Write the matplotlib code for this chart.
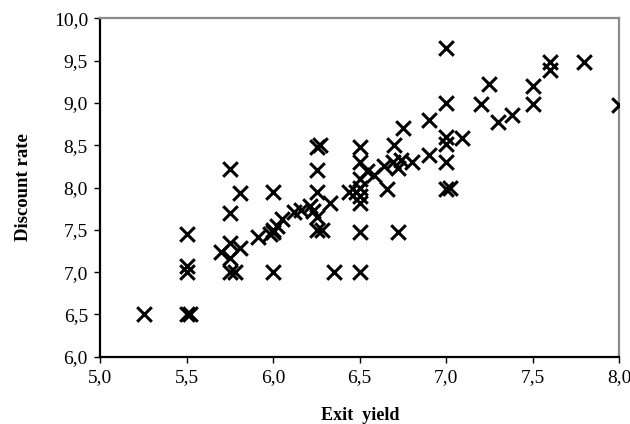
import matplotlib
matplotlib.use("Agg")
import matplotlib.pyplot as plt
from matplotlib.ticker import FuncFormatter

# Data
exit_yield = [
    5.25, 5.50, 5.52, 5.50, 5.50, 5.50, 5.75, 5.78, 5.75, 5.70,
    5.81, 5.75, 5.75, 5.75, 5.81, 5.91, 6.00, 6.00, 6.00, 5.98,
    6.02, 6.00, 6.05, 6.12, 6.16, 6.21, 6.25, 6.23, 6.25, 6.28,
    6.25, 6.25, 6.25, 6.27, 6.33, 6.35, 6.44, 6.50, 6.50, 6.50,
    6.50, 6.48, 6.50, 6.50, 6.54, 6.58, 6.50, 6.50, 6.64, 6.66,
    6.69, 6.72, 6.74, 6.70, 6.72, 6.75, 6.80, 6.90, 6.90, 7.00,
    7.02, 7.00, 7.00, 7.00, 7.00, 7.00, 7.09, 7.20, 7.25, 7.30,
    7.38, 7.50, 7.50, 7.60, 7.60, 7.80, 8.00,
]
discount_rate = [
    6.50, 6.50, 6.50, 7.00, 7.07, 7.45, 7.00, 7.00, 7.17, 7.24,
    7.28, 7.34, 7.70, 8.22, 7.94, 7.41, 7.00, 7.95, 7.50, 7.45,
    7.55, 7.47, 7.63, 7.71, 7.74, 7.78, 7.65, 7.72, 7.50, 7.50,
    7.95, 8.21, 8.48, 8.50, 7.82, 7.00, 7.95, 7.00, 7.48, 7.82,
    7.90, 7.95, 8.00, 8.10, 8.19, 8.15, 8.30, 8.48, 8.25, 7.98,
    8.30, 8.23, 8.33, 8.50, 7.48, 8.70, 8.30, 8.38, 8.80, 7.98,
    7.99, 8.30, 8.52, 8.60, 9.00, 9.65, 8.58, 8.99, 9.22, 8.78,
    8.86, 8.99, 9.20, 9.39, 9.48, 9.48, 8.98,
]

plt.rcParams['font.family'] = ['Liberation Serif', 'DejaVu Serif']

fig = plt.figure(figsize=(6.30, 4.24), dpi=100)
ax = fig.add_axes([0.1595, 0.1587, 0.8230, 0.7981])

ax.scatter(exit_yield, discount_rate, marker='x', s=110, linewidths=2.2,
           color='black', zorder=3)

ax.set_xlim(5.0, 8.0)
ax.set_ylim(6.0, 10.0)
ax.set_xticks([5.0, 5.5, 6.0, 6.5, 7.0, 7.5, 8.0])
ax.set_yticks([6.0, 6.5, 7.0, 7.5, 8.0, 8.5, 9.0, 9.5, 10.0])
comma = FuncFormatter(lambda v, p: f"{v:.1f}".replace('.', ','))
ax.xaxis.set_major_formatter(comma)
ax.yaxis.set_major_formatter(comma)
ax.tick_params(direction='out', length=4, width=1, labelsize=14, pad=5)

for side in ['left', 'bottom']:
    ax.spines[side].set_linewidth(1.6)
    ax.spines[side].set_color('black')
for side in ['top', 'right']:
    ax.spines[side].set_linewidth(1.6)
    ax.spines[side].set_color('#8a8a8a')

ax.set_xlabel("Exit  yield", fontsize=13, fontweight='bold', labelpad=15)
ax.set_ylabel("Discount rate", fontsize=13.5, fontweight='bold', labelpad=16)

fig.savefig("out.png", dpi=100)
